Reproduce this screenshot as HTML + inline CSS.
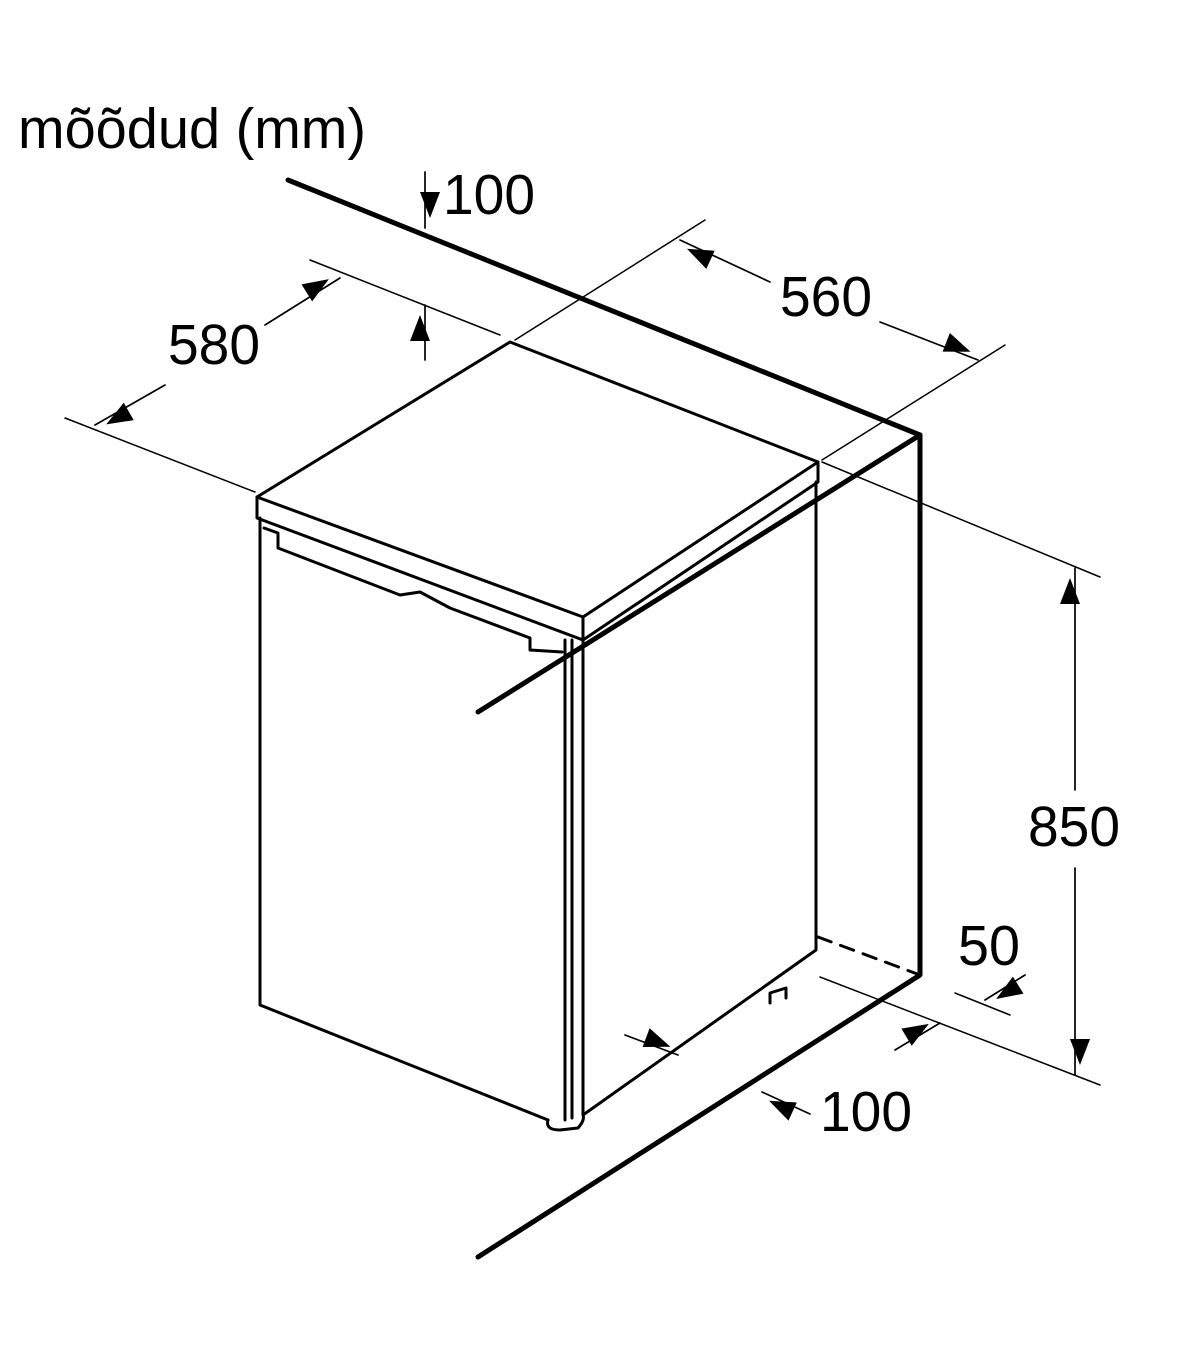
<!DOCTYPE html>
<html><head><meta charset="utf-8"><style>html,body{margin:0;padding:0;background:#fff}svg{display:block}</style></head>
<body>
<svg width="1200" height="1372" viewBox="0 0 1200 1372" xmlns="http://www.w3.org/2000/svg" font-family="Liberation Sans, sans-serif" fill="none" stroke="#000" stroke-linecap="round" stroke-linejoin="round">
<defs>
<marker id="a" viewBox="0 0 10 10" refX="10" refY="5" markerWidth="10" markerHeight="10" markerUnits="userSpaceOnUse" orient="auto" overflow="visible">
<path d="M-26,-10 L0,0 L-26,10 Z" fill="#000" stroke="none"/>
</marker>
</defs>
<g fill="#000" stroke="none" font-size="57">
<text x="18" y="148" textLength="348" lengthAdjust="spacingAndGlyphs">mõõdud (mm)</text>
<text x="443" y="214" textLength="92" lengthAdjust="spacingAndGlyphs">100</text>
<text x="168" y="364" textLength="92" lengthAdjust="spacingAndGlyphs">580</text>
<text x="780" y="316" textLength="92" lengthAdjust="spacingAndGlyphs">560</text>
<text x="1028" y="846" textLength="92" lengthAdjust="spacingAndGlyphs">850</text>
<text x="958" y="965" textLength="62" lengthAdjust="spacingAndGlyphs">50</text>
<text x="820" y="1131" textLength="92" lengthAdjust="spacingAndGlyphs">100</text>
</g>
<g stroke-width="5">
<path d="M288,180 L920,435 L920,975 L478,1257"/>
<path d="M920,435 L478,712"/>
</g>
<path d="M818,937 L920,975" stroke-width="3" stroke-dasharray="14,10"/>
<g stroke-width="3">
<path d="M510,342 L818,462 L583,617 L257,497 Z"/>
<path d="M257,497 L257,518 L583,640 L583,617 M818,462 L818,482 L583,640"/>
<path d="M260,518 L260,1005 L548,1120 M583,640 L583,1115 L816,950 L816,482"/>
<path d="M565,640 L565,1120 M572,640 L572,1118"/>
<path d="M264,528 L278,533 L278,548 L400,595 L420,592 L450,608 L530,638 L530,650 L562,652"/>
<path d="M548,1120 Q545,1130 560,1130 L578,1128 Q585,1120 583,1115"/>
<path d="M770,1003 L770,993 L786,988 L786,998"/>
</g>
<g stroke-width="1.5">
<path d="M310,260 L500,335"/>
<path d="M65,418 L255,492"/>
<path d="M705,220 L515,340"/>
<path d="M1005,345 L822,460"/>
<path d="M822,462 L1100,577"/>
<path d="M820,977 L1100,1085"/>
<path d="M955,993 L1010,1015"/>
</g>
<g stroke-width="1.7" marker-end="url(#a)">
<path d="M425,172 L425,228"/>
<path d="M425,360 L425,305"/>
<path d="M165,385 L95,425"/>
<path d="M265,325 L340,278"/>
<path d="M770,282 L680,240"/>
<path d="M880,322 L978,360"/>
<path d="M1075,790 L1075,568"/>
<path d="M1075,868 L1075,1075"/>
<path d="M1025,975 L985,1000"/>
<path d="M625,1035 L678,1055"/>
<path d="M810,1114 L762,1092"/>
<path d="M895,1050 L940,1023"/>
</g>
</svg>
</body></html>
